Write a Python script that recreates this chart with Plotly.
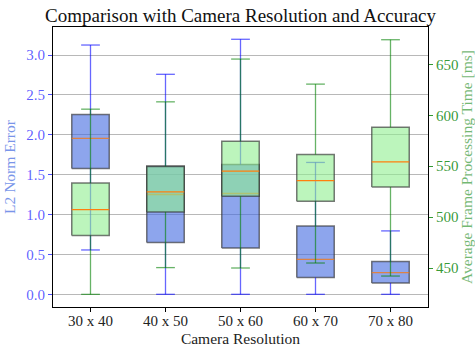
import plotly.graph_objects as go

# Camera resolutions compared
categories = ["30 x 40", "40 x 50", "50 x 60", "60 x 70", "70 x 80"]

# L2 norm error: box statistics per resolution
err_low = [0.556, 0.0, 0.0, 0.0, 0.0]
err_q1 = [1.578, 0.649, 0.581, 0.210, 0.142]
err_med = [1.954, 1.251, 1.264, 0.439, 0.272]
err_q3 = [2.255, 1.607, 1.628, 0.857, 0.410]
err_high = [3.125, 2.758, 3.197, 1.653, 0.795]

# Average frame processing time [ms]: box statistics per resolution
time_low = [424.1, 450.4, 450.0, 454.9, 442.1]
time_q1 = [481.9, 505.1, 520.5, 515.6, 529.6]
time_med = [507.4, 524.7, 545.1, 535.9, 554.2]
time_q3 = [533.6, 549.7, 574.6, 561.5, 588.3]
time_high = [606.0, 613.2, 655.2, 630.6, 674.2]

FONT = "Liberation Serif"
BOX_HALF = 0.25
CAP_HALF = 0.125
positions = list(range(len(categories)))


def add_boxes(fig, low, q1, med, q3, high, yaxis, fill, whisk, med_color):
    bx, by, wx, wy, cx, cy, mx, my = [], [], [], [], [], [], [], []
    for p, lo, a, m, b, hi in zip(positions, low, q1, med, q3, high):
        bx += [p - BOX_HALF, p + BOX_HALF, p + BOX_HALF, p - BOX_HALF, p - BOX_HALF, None]
        by += [a, a, b, b, a, None]
        wx += [p, p, None, p, p, None]
        wy += [a, lo, None, b, hi, None]
        cx += [p - CAP_HALF, p + CAP_HALF, None, p - CAP_HALF, p + CAP_HALF, None]
        cy += [lo, lo, None, hi, hi, None]
        mx += [p - BOX_HALF, p + BOX_HALF, None]
        my += [m, m, None]
    common = dict(yaxis=yaxis, showlegend=False, hoverinfo="skip", mode="lines")
    fig.add_trace(go.Scatter(x=bx, y=by, fill="toself", fillcolor=fill,
                             line=dict(color="rgba(50,50,50,0.65)", width=1.5), **common))
    fig.add_trace(go.Scatter(x=wx, y=wy, line=dict(color=whisk, width=1.3), **common))
    fig.add_trace(go.Scatter(x=cx, y=cy, line=dict(color=whisk, width=1.3), **common))
    fig.add_trace(go.Scatter(x=mx, y=my, line=dict(color=med_color, width=1.3), **common))


fig = go.Figure()
add_boxes(fig, err_low, err_q1, err_med, err_q3, err_high, "y",
          "rgba(65,105,225,0.6)", "rgba(0,0,255,0.6)", "rgba(235,125,40,0.85)")
add_boxes(fig, time_low, time_q1, time_med, time_q3, time_high, "y2",
          "rgba(144,238,144,0.6)", "rgba(0,128,0,0.6)", "#ff7f0e")

fig.update_layout(
    width=475, height=350,
    margin=dict(l=53, r=47, t=27, b=43, pad=0),
    paper_bgcolor="white", plot_bgcolor="white",
    font=dict(family=FONT, size=15, color="black"),
    title=dict(text="Comparison with Camera Resolution and Accuracy",
               x=0.5, xref="paper", xanchor="center",
               y=1 - 15 / 350, yref="container", yanchor="middle",
               font=dict(family=FONT, size=19, color="#111")),
    xaxis=dict(range=[-0.5, 4.5], tickvals=positions, ticktext=categories,
               automargin=False,
               showgrid=False, zeroline=False,
               showline=True, linecolor="black", linewidth=1.2, mirror=True,
               ticks="outside", ticklen=4, tickcolor="black", tickwidth=1,
               ticklabelstandoff=-4,
               tickfont=dict(size=15, color="#222"),
               title=dict(text="Camera Resolution", standoff=5,
                          font=dict(size=15.5, color="#222"))),
    yaxis=dict(range=[-0.159, 3.351], tick0=0, dtick=0.5, tickformat=".1f",
               automargin=False,
               showgrid=True, gridcolor="#b8b8b8", gridwidth=1, zeroline=False,
               showline=True, linecolor="black", linewidth=1.2,
               ticks="outside", ticklen=4, tickcolor="rgba(0,0,255,0.7)",
               tickfont=dict(size=15, color="rgba(0,0,255,0.65)"),
               title=dict(text="L2 Norm Error", standoff=6,
                          font=dict(size=15.5, color="rgba(65,105,225,0.7)"))),
    yaxis2=dict(range=[411.7, 686.7], tick0=450, dtick=50, overlaying="y", side="right",
                automargin=False,
                showgrid=False, zeroline=False,
                showline=True, linecolor="black", linewidth=1.2,
                ticks="outside", ticklen=4, tickcolor="rgba(0,128,0,0.8)",
                tickfont=dict(size=15, color="rgba(0,128,0,0.8)"),
                title=dict(text="Average Frame Processing Time [ms]", standoff=16,
                           font=dict(size=15.5, color="rgba(0,128,0,0.55)"))),
)

fig.write_html("out.html")
